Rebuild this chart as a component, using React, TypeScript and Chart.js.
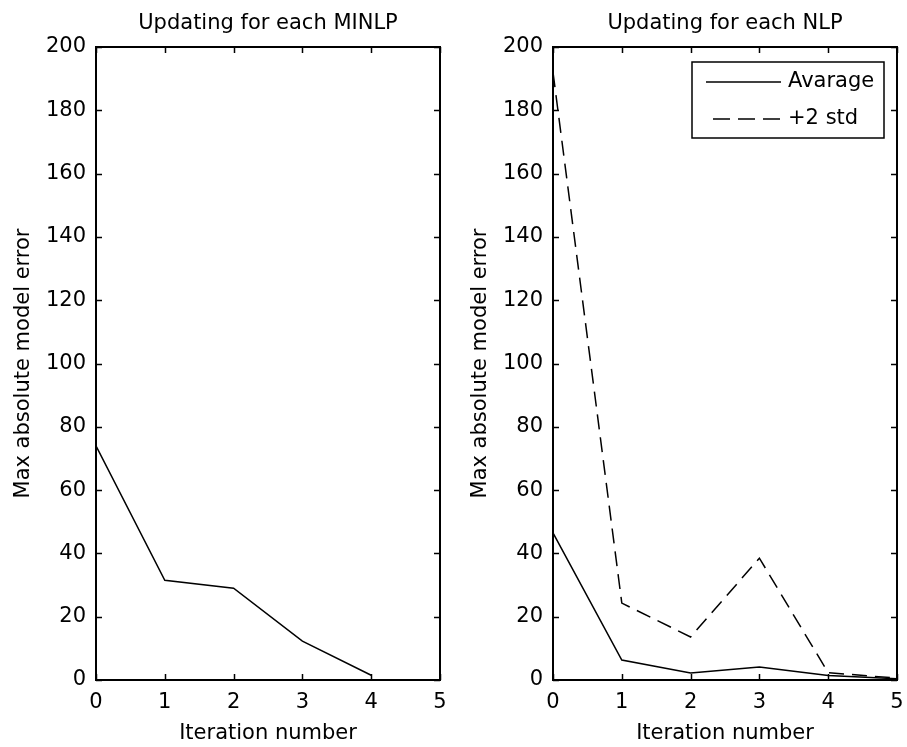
import React, { useEffect, useRef } from "react";
import { Chart, registerables } from "chart.js";

Chart.register(...registerables);

// Iteration numbers shared by both panels
const iterations = [0, 1, 2, 3, 4, 5];
// Left panel: updating for each MINLP
const minlpError = [74, 31.5, 29, 12.3, 1.5];
// Right panel: updating for each NLP
const nlpAverage = [46.5, 6.3, 2.2, 4.1, 1.4, 0.4];
const nlpPlus2Std = [192, 24.3, 13.6, 38.5, 2.3, 0.6];

const xTicks = { min: 0, max: 5, step: 1 };
const yTicks = { min: 0, max: 200, step: 20 };

const FONT = "'DejaVu Sans', 'Liberation Sans', sans-serif";
const FONT_SIZE = 21;
const DASH = [15, 8];

const toPoints = (ys: number[]) => ys.map((y, i) => ({ x: iterations[i], y }));

// Boxed axes with inward tick marks on all four sides, plus an optional legend box
const framePlugin = {
  id: "frame",
  afterDatasetsDraw(chart: any, _args: any, opts: any) {
    const { ctx, chartArea } = chart;
    const { left, right, top, bottom } = chartArea;
    const xs = chart.scales.x;
    const ys = chart.scales.y;
    const tickLen = 6;
    ctx.save();
    ctx.strokeStyle = "#000";
    ctx.lineWidth = 1.5;
    ctx.beginPath();
    xs.ticks.forEach((t: any) => {
      const px = Math.round(xs.getPixelForValue(t.value)) + 0.5;
      ctx.moveTo(px, bottom);
      ctx.lineTo(px, bottom - tickLen);
      ctx.moveTo(px, top);
      ctx.lineTo(px, top + tickLen);
    });
    ys.ticks.forEach((t: any) => {
      const py = Math.round(ys.getPixelForValue(t.value)) + 0.5;
      ctx.moveTo(left, py);
      ctx.lineTo(left + tickLen, py);
      ctx.moveTo(right, py);
      ctx.lineTo(right - tickLen, py);
    });
    ctx.stroke();
    ctx.lineWidth = 2;
    ctx.strokeRect(left, top, right - left, bottom - top);

    if (opts && opts.legend) {
      const boxW = 192;
      const boxH = 76;
      const bx = right - 13 - boxW;
      const by = top + 15;
      ctx.fillStyle = "#fff";
      ctx.fillRect(bx, by, boxW, boxH);
      ctx.lineWidth = 1.5;
      ctx.strokeRect(bx, by, boxW, boxH);
      ctx.font = `${FONT_SIZE}px ${FONT}`;
      ctx.textBaseline = "middle";
      ctx.textAlign = "left";
      chart.data.datasets.forEach((ds: any, i: number) => {
        const rowY = by + 20 + i * 37;
        const dashed = ds.borderDash && ds.borderDash.length;
        ctx.beginPath();
        ctx.lineWidth = 1.5;
        ctx.setLineDash(dashed ? [17, 8] : []);
        ctx.moveTo(dashed ? bx + 21 : bx + 14, rowY);
        ctx.lineTo(bx + 89, rowY);
        ctx.stroke();
        ctx.setLineDash([]);
        ctx.fillStyle = "#000";
        ctx.fillText(ds.label, bx + 96, rowY);
      });
    }
    ctx.restore();
  },
};

function makeOptions(title: string, rightPad: number, legend: boolean): any {
  const font = { family: FONT, size: FONT_SIZE };
  return {
    responsive: false,
    animation: false,
    layout: { padding: { left: 0, right: rightPad, top: 0, bottom: 0 } },
    plugins: {
      legend: { display: false },
      tooltip: { enabled: false },
      title: {
        display: true,
        text: title,
        fullSize: false,
        color: "#000",
        font: { ...font, weight: "normal" },
        padding: { top: 11, bottom: 10.8 },
      },
      frame: { legend },
    },
    scales: {
      x: {
        type: "linear",
        min: xTicks.min,
        max: xTicks.max,
        grid: { display: false, drawTicks: false },
        border: { display: false },
        ticks: { stepSize: xTicks.step, color: "#000", font, padding: 10 },
        title: {
          display: true,
          text: "Iteration number",
          color: "#000",
          font,
          padding: { top: 0, bottom: 1 },
        },
        afterFit(scale: any) {
          scale.height = 67;
          scale.paddingLeft = 0;
          scale.paddingRight = 0;
        },
      },
      y: {
        type: "linear",
        min: yTicks.min,
        max: yTicks.max,
        grid: { display: false, drawTicks: false },
        border: { display: false },
        ticks: { stepSize: yTicks.step, color: "#000", font, padding: 10 },
        title: {
          display: true,
          text: "Max absolute model error",
          color: "#000",
          font,
          padding: { top: 11, bottom: 0 },
        },
        afterFit(scale: any) {
          scale.width = 96;
          scale.paddingTop = 0;
          scale.paddingBottom = 0;
        },
      },
    },
  };
}

function Panel(props: { left: number; width: number; config: any }) {
  const ref = useRef<HTMLCanvasElement | null>(null);
  useEffect(() => {
    if (!ref.current) return;
    const chart = new Chart(ref.current, props.config);
    return () => chart.destroy();
  }, []);
  return (
    <canvas
      ref={ref}
      width={props.width}
      height={747}
      style={{ position: "absolute", left: props.left, top: 0, width: props.width, height: 747, display: "block" }}
    />
  );
}

const lineStyle = {
  borderColor: "#000",
  borderWidth: 1.5,
  pointRadius: 0,
  tension: 0,
  fill: false,
};

export default function App() {
  const leftConfig = {
    type: "line",
    data: {
      datasets: [{ label: "MINLP", data: toPoints(minlpError), ...lineStyle }],
    },
    options: makeOptions("Updating for each MINLP", 17, false),
    plugins: [framePlugin],
  };
  const rightConfig = {
    type: "line",
    data: {
      datasets: [
        { label: "Avarage", data: toPoints(nlpAverage), ...lineStyle },
        { label: "+2 std", data: toPoints(nlpPlus2Std), ...lineStyle, borderDash: DASH },
      ],
    },
    options: makeOptions("Updating for each NLP", 10, true),
    plugins: [framePlugin],
  };
  return (
    <div style={{ position: "absolute", left: 0, top: 0, width: 907, height: 747, background: "#fff" }}>
      <Panel left={0} width={457} config={leftConfig} />
      <Panel left={457} width={450} config={rightConfig} />
    </div>
  );
}
